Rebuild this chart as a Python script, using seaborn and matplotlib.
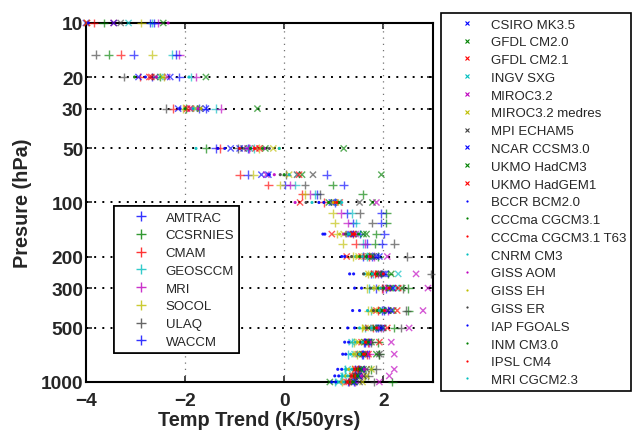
import numpy as np
import pandas as pd
import matplotlib
matplotlib.use("Agg")
import matplotlib.pyplot as plt
import seaborn as sns
from matplotlib.lines import Line2D
from matplotlib.ticker import FixedLocator, NullFormatter, NullLocator

n = np.nan

# pressure levels (hPa)
ccm_levels = [10, 15, 20, 30, 50, 70, 80, 90, 100, 115, 130, 150, 170, 200, 250, 300, 400, 500, 600, 700, 850, 925, 1000]
cmip_levels = [10, 20, 30, 50, 70, 100, 150, 200, 250, 300, 400, 500, 600, 700, 850, 925, 1000]

# chemistry-climate models (K/50yrs) on ccm_levels
amtrac = [-2.70, -3.04, -2.66, -1.72, -1.38, -0.74, 0.02, 0.66, n, 1.26, 1.38, 1.52, 1.66, 1.58, 1.76, 1.86, 1.98, 1.90, 1.62, 1.58, 1.50, 1.44, 1.40]
ccsrnies = [-3.64, -3.54, -2.50, -1.98, -1.58, n, 0.98, 1.58, n, 2.06, 2.06, 1.86, 1.84, 1.90, 2.10, 2.50, 2.50, 2.22, 1.90, 1.92, 1.76, 1.62, 2.18]
cmam = [-3.84, -3.30, -2.90, -2.24, -1.30, -0.90, -0.32, 0.36, 0.80, n, n, 1.38, 1.44, 1.72, 1.84, 1.98, 1.90, 1.80, 1.70, 1.66, 1.48, 1.42, 1.30]
geosccm = [-2.66, -2.26, -1.88, -1.38, -0.60, n, 0.22, 0.62, n, 1.36, 1.44, n, 1.58, 1.66, 1.80, 1.72, 1.76, 1.62, 1.36, 1.28, 1.22, 1.16, 1.02]
mri = [-2.54, -2.12, -1.78, -1.28, -0.72, n, 0.12, 0.52, n, 1.14, 1.28, n, 1.62, 1.82, 1.90, 2.00, 2.10, 1.96, 1.72, 1.72, 1.60, 1.56, 1.42]
socol = [-2.88, -2.66, -2.42, -2.04, -0.50, -0.62, -0.08, 0.42, n, 0.98, 1.02, 1.06, 1.18, 1.38, 1.70, 1.68, 1.70, 1.56, 1.40, 1.46, 1.36, 1.30, 1.16]
ulaq = [n, -3.80, -3.24, -2.38, -0.94, 0.04, 0.42, 0.72, n, 1.52, 1.78, n, 2.22, 2.48, 2.96, 2.40, 2.46, 2.36, 1.76, 1.92, 1.86, 1.70, 1.82]
waccm = [-2.62, -2.18, -2.12, -1.58, -0.74, 0.86, 1.20, n, 1.02, 1.96, 1.96, 2.02, 1.98, 1.78, 1.96, 2.06, 2.02, 1.86, 1.60, 1.56, 1.42, 1.40, 1.28]

# coupled models, x markers, on cmip_levels
csiro = [-4.00, -2.94, -2.14, -1.08, -0.46, 1.00, 1.30, 1.92, 2.00, 2.20, 2.08, 1.94, 1.70, 1.62, 1.50, 1.44, 1.36]
gfdl20 = [-2.44, -1.58, -0.54, 1.20, 1.96, 1.78, 1.66, 1.70, 2.16, 2.38, 2.20, 2.00, 1.76, 1.86, 1.60, 1.50, 0.92]
gfdl21 = [-3.44, -2.72, -1.90, -0.58, 0.26, 1.12, 0.96, 1.26, 1.90, 2.10, 1.86, 1.70, 1.56, 1.50, 1.48, 1.42, 1.30]
ingv = [-3.14, -2.50, -1.80, -0.70, 0.26, 1.10, 1.50, 1.64, 2.30, 2.26, 2.00, 1.80, 1.36, 1.42, 1.28, 1.20, 1.10]
miroc = [n, -2.36, -1.88, -0.74, -0.36, 1.86, 1.44, 2.08, 2.66, 2.90, 2.80, 2.52, 2.16, 2.22, 2.22, 2.12, 1.92]
miroc_med = [-3.98, -2.46, -1.78, -0.22, 0.10, 1.04, 1.20, 1.50, 1.70, 1.86, 1.82, 1.64, 1.50, 1.46, 1.76, 1.66, 1.58]
mpi = [-3.30, -2.60, -1.70, -0.82, 0.58, 1.52, 1.40, 1.80, 1.96, 2.04, 2.10, 1.90, 1.72, 1.92, 1.66, 1.60, 1.52]
ncar = [-3.44, -2.30, -1.58, -0.90, -0.32, 0.96, 1.34, 1.86, 2.04, 2.18, 2.16, 1.98, 1.68, 1.66, 1.56, 1.50, 1.42]
hadcm3 = [n, n, n, -0.38, 0.36, 0.90, 1.60, 1.76, 1.92, 2.14, 1.98, 1.84, 1.62, 1.58, 1.54, 1.46, 1.40]
hadgem1 = [-3.98, -2.68, -1.96, -0.50, 0.30, 0.32, 1.38, 1.56, 1.82, 2.30, 2.28, 2.08, 1.92, 1.70, 1.44, 1.38, 1.26]

# coupled models, dot markers, on cmip_levels
bccr = [-3.95, -2.80, -2.10, -1.34, -0.30, 0.70, 0.78, 1.16, 1.32, 1.42, 1.38, 1.28, 1.22, 1.18, 1.08, 1.02, 0.96]
cccma = [n, -3.02, -2.00, -0.68, 0.00, 0.90, 1.30, 1.52, 1.76, 1.90, 1.88, 1.72, 1.60, 1.56, 1.46, 1.40, 1.30]
cccma_t63 = [n, n, n, -0.60, n, 1.00, 1.36, 1.60, 1.84, 1.96, 1.94, 1.80, 1.66, 1.60, 1.50, 1.44, 1.36]
cnrm = [n, -1.92, -1.84, -1.78, 0.10, 0.56, 1.28, 1.44, 1.62, 1.78, 1.68, 1.52, 1.44, 1.34, 1.24, 1.16, 1.08]
giss_aom = [-2.34, -2.58, -1.74, -0.40, -0.20, 0.22, 1.20, 1.70, 1.90, 2.06, 2.04, 1.90, 1.74, 1.68, 1.62, 1.56, 1.16]
giss_eh = [n, n, -1.68, -0.10, n, 0.98, 1.12, 1.46, 1.68, 1.80, 1.76, 1.60, 1.48, 1.40, 1.30, 1.24, 1.16]
giss_er = [n, n, n, -0.30, -0.08, 0.44, 1.24, 1.36, 1.60, 1.74, 1.80, 1.66, 1.54, 1.50, 1.40, 1.34, 1.24]
iap = [n, n, n, -1.20, n, 0.80, 0.82, 1.22, 1.40, 1.56, 1.52, 1.42, 1.30, 1.24, 1.16, 1.10, 1.04]
inm = [n, n, n, -0.44, n, 1.10, 1.50, 1.66, 1.88, 2.00, 1.96, 1.82, 1.70, 1.64, 1.52, 1.48, 1.38]
ipsl = [n, n, n, -0.90, n, 1.06, 1.42, 1.74, 2.00, 2.12, 2.02, 1.86, 1.64, 1.62, 1.42, 1.36, 1.28]
mri_cgcm = [n, n, n, -0.10, n, 1.16, 1.32, 1.58, 1.78, 1.94, 1.92, 1.76, 1.58, 1.52, 1.36, 1.28, 1.20]

ccm_names = ["AMTRAC", "CCSRNIES", "CMAM", "GEOSCCM", "MRI", "SOCOL", "ULAQ", "WACCM"]
ccm_data = [amtrac, ccsrnies, cmam, geosccm, mri, socol, ulaq, waccm]
x_names = ["CSIRO MK3.5", "GFDL CM2.0", "GFDL CM2.1", "INGV SXG", "MIROC3.2", "MIROC3.2 medres",
           "MPI ECHAM5", "NCAR CCSM3.0", "UKMO HadCM3", "UKMO HadGEM1"]
x_data = [csiro, gfdl20, gfdl21, ingv, miroc, miroc_med, mpi, ncar, hadcm3, hadgem1]
dot_names = ["BCCR BCM2.0", "CCCma CGCM3.1", "CCCma CGCM3.1 T63", "CNRM CM3", "GISS AOM", "GISS EH",
             "GISS ER", "IAP FGOALS", "INM CM3.0", "IPSL CM4", "MRI CGCM2.3"]
dot_data = [bccr, cccma, cccma_t63, cnrm, giss_aom, giss_eh, giss_er, iap, inm, ipsl, mri_cgcm]

# matlab default line colours, cycled
mcolors = [(0, 0, 1), (0, 0.5, 0), (1, 0, 0), (0, 0.75, 0.75), (0.75, 0, 0.75), (0.75, 0.75, 0), (0.25, 0.25, 0.25)]


def to_long(names, data, levels):
    rows = []
    for name, vals in zip(names, data):
        for p, v in zip(levels, vals):
            rows.append({"model": name, "pressure": p, "trend": v})
    return pd.DataFrame(rows).dropna()


df_ccm = to_long(ccm_names, ccm_data, ccm_levels)
df_x = to_long(x_names, x_data, cmip_levels)
df_dot = to_long(dot_names, dot_data, cmip_levels)

pal_ccm = {m: mcolors[i % 7] for i, m in enumerate(ccm_names)}
pal_x = {m: mcolors[i % 7] for i, m in enumerate(x_names)}
pal_dot = {m: mcolors[i % 7] for i, m in enumerate(dot_names)}

sns.set_style("ticks")
plt.rcParams["font.family"] = ["Liberation Sans", "DejaVu Sans"]

fig = plt.figure(figsize=(6.32, 4.31), dpi=100)
ax = fig.add_axes([0.136, 0.1114, 0.549, 0.833])

# grid lines
for p in [10, 20, 30, 50, 100, 200, 300, 500, 1000]:
    ax.axhline(p, color="black", lw=1.4, ls=(0, (1, 3.2)), zorder=1)
for xv in [-2, 0, 2]:
    ax.axvline(xv, color="0.45", lw=0.9, ls=(0, (1, 4)), zorder=1)

sns.scatterplot(data=df_ccm, x="trend", y="pressure", hue="model", palette=pal_ccm,
                marker="+", s=40, linewidth=1.0, alpha=0.65, legend=False, ax=ax,
                clip_on=False, zorder=3)
sns.scatterplot(data=df_x, x="trend", y="pressure", hue="model", palette=pal_x,
                marker="x", s=20, linewidth=1.0, alpha=0.65, legend=False, ax=ax,
                clip_on=False, zorder=3)
sns.scatterplot(data=df_dot, x="trend", y="pressure", hue="model", palette=pal_dot,
                marker="o", s=5, linewidth=0, alpha=0.9, legend=False, ax=ax,
                clip_on=False, zorder=3)

ax.set_yscale("log")
ax.set_ylim(1000, 10)
ax.set_xlim(-4, 3)
ax.yaxis.set_major_locator(FixedLocator([10, 20, 30, 50, 100, 200, 300, 500, 1000]))
ax.yaxis.set_minor_locator(NullLocator())
ax.yaxis.set_minor_formatter(NullFormatter())
ax.set_yticklabels(["10", "20", "30", "50", "100", "200", "300", "500", "1000"])
ax.set_xticks([-4, -2, 0, 2])
ax.set_xticklabels(["\u22124", "\u22122", "0", "2"])

for sp in ax.spines.values():
    sp.set_linewidth(1.5)
    sp.set_color("black")
ax.tick_params(direction="in", length=4, width=1.2, top=True, right=True, labelsize=13.8)
ax.tick_params(axis="x", pad=7)
ax.tick_params(axis="y", pad=2)
for lab in ax.get_xticklabels() + ax.get_yticklabels():
    lab.set_fontweight("bold")

ax.set_xlabel("Temp Trend (K/50yrs)", fontsize=14.3, fontweight="bold")
ax.set_ylabel("Presure (hPa)", fontsize=14.3, fontweight="bold")
ax.xaxis.set_label_coords(0.5, -0.078)
ax.yaxis.set_label_coords(-0.155, 0.5)

# legends
h_ccm = [Line2D([], [], ls="none", marker="+", color=pal_ccm[m], ms=7, mew=1.0, alpha=0.8) for m in ccm_names]
leg1 = ax.legend(h_ccm, ccm_names, loc="upper left", bbox_to_anchor=(0.081, 0.49),
                 frameon=True, fancybox=False, edgecolor="black", framealpha=1,
                 fontsize=9.5, handlelength=3.3, handletextpad=0.2, labelspacing=0.42,
                 borderpad=0.4, borderaxespad=0)
leg1.get_frame().set_linewidth(1.2)
leg1.set_zorder(5)
ax.add_artist(leg1)

h_right = [Line2D([], [], ls="none", marker="x", color=pal_x[m], ms=3.5, mew=0.8) for m in x_names]
h_right += [Line2D([], [], ls="none", marker="o", color=pal_dot[m], ms=1.6, mew=0) for m in dot_names]
leg2 = fig.legend(h_right, x_names + dot_names, loc="upper left", bbox_to_anchor=(441 / 632, 1 - 14 / 431),
                  frameon=True, fancybox=False, edgecolor="black", framealpha=1,
                  fontsize=9.5, handlelength=3.1, handletextpad=0.27, labelspacing=0.42,
                  borderpad=0.4, borderaxespad=0)
leg2.get_frame().set_linewidth(1.2)

fig.savefig("out.png", dpi=100)
plt.close(fig)
